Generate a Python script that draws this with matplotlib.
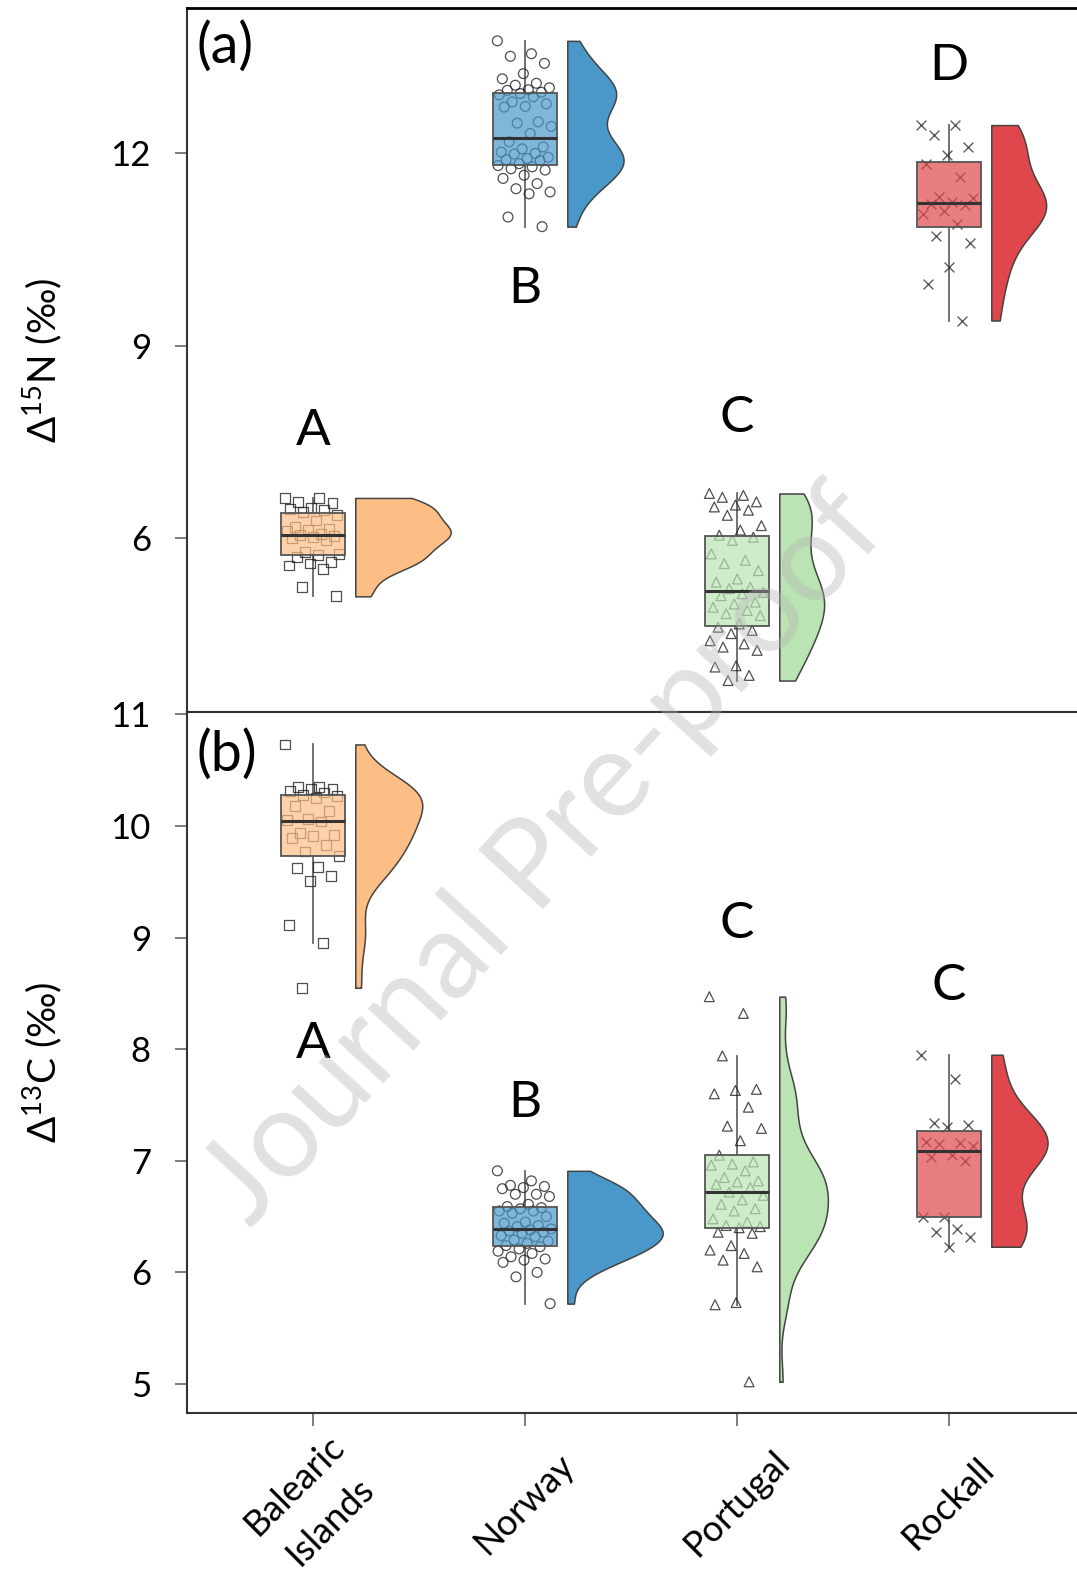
import numpy as np
import matplotlib.pyplot as plt
from matplotlib.colors import to_rgba

plt.rcParams['font.family'] = ['Lato', 'DejaVu Sans']
plt.rcParams['mathtext.fontset'] = 'custom'
plt.rcParams['mathtext.rm'] = 'Lato'
plt.rcParams['mathtext.it'] = 'Lato:italic'
plt.rcParams['mathtext.bf'] = 'Lato:bold'

# sites, colours, point shapes
sites = ['Balearic\nIslands', 'Norway', 'Portugal', 'Rockall']
colours = ['#FDBE85', '#4A98C9', '#BAE4B3', '#E0474C']
markers = ['s', 'o', '^', 'x']

# Delta 15N values
d15n_bal = [6.63, 6.63, 6.57, 6.55, 6.48, 6.46, 6.44, 6.41, 6.37, 6.28, 6.18, 6.15,
            6.13, 6.11, 6.07, 6.05, 6.04, 6.02, 6.00, 5.97, 5.79, 5.76, 5.74, 5.71,
            5.63, 5.61, 5.58, 5.53, 5.24, 5.10]
d15n_nor = [13.74, 13.54, 13.50, 13.39, 13.23, 13.15, 13.08, 13.05, 13.01, 12.98, 12.97,
            12.94, 12.92, 12.90, 12.87, 12.79, 12.76, 12.72, 12.71, 12.48, 12.46, 12.41,
            12.30, 12.17, 12.09, 12.06, 12.01, 11.99, 11.98, 11.93, 11.91, 11.89, 11.88,
            11.83, 11.80, 11.78, 11.75, 11.73, 11.65, 11.60, 11.52, 11.44, 11.39, 11.36,
            11.00, 10.85]
d15n_por = [6.70, 6.67, 6.64, 6.57, 6.52, 6.49, 6.44, 6.36, 6.20, 6.13, 6.05, 6.02,
            5.97, 5.76, 5.66, 5.61, 5.50, 5.37, 5.32, 5.24, 5.22, 5.16, 5.14, 5.11,
            5.01, 4.98, 4.93, 4.88, 4.83, 4.80, 4.67, 4.62, 4.57, 4.52, 4.41, 4.36,
            4.31, 4.26, 4.02, 4.00, 3.87, 3.79]
d15n_roc = [12.43, 12.43, 12.27, 12.09, 11.96, 11.83, 11.63, 11.31, 11.29, 11.23,
            11.21, 11.18, 11.10, 11.05, 10.89, 10.71, 10.59, 10.22, 9.96, 9.39]

# Delta 13C values
d13c_bal = [10.73, 10.35, 10.35, 10.33, 10.33, 10.31, 10.30, 10.28, 10.27, 10.25,
            10.18, 10.13, 10.06, 10.05, 10.04, 9.94, 9.92, 9.91, 9.89, 9.83, 9.77,
            9.73, 9.63, 9.62, 9.55, 9.51, 9.11, 8.95, 8.55]
d13c_nor = [6.91, 6.82, 6.78, 6.77, 6.76, 6.75, 6.70, 6.70, 6.68, 6.61, 6.59, 6.58,
            6.57, 6.55, 6.55, 6.53, 6.50, 6.45, 6.44, 6.42, 6.41, 6.39, 6.38, 6.37,
            6.36, 6.35, 6.33, 6.32, 6.29, 6.28, 6.26, 6.24, 6.23, 6.21, 6.19, 6.17,
            6.14, 6.12, 6.11, 6.09, 6.00, 5.96, 5.72]
d13c_por = [8.47, 8.32, 7.94, 7.64, 7.63, 7.60, 7.48, 7.31, 7.29, 7.18, 7.05, 6.99,
            6.97, 6.96, 6.91, 6.85, 6.82, 6.81, 6.79, 6.76, 6.72, 6.69, 6.65, 6.61,
            6.57, 6.55, 6.48, 6.45, 6.42, 6.41, 6.40, 6.36, 6.35, 6.24, 6.20, 6.17,
            6.11, 6.05, 5.73, 5.71, 5.02]
d13c_roc = [7.95, 7.73, 7.34, 7.32, 7.30, 7.17, 7.16, 7.15, 7.13, 7.05, 7.03, 7.00,
            6.50, 6.50, 6.39, 6.36, 6.32, 6.23]

# significance letters and their heights
letters_n = ['A', 'B', 'C', 'D']
letters_n_y = [7.67, 9.88, 7.88, 13.35]
letters_c = ['A', 'B', 'C', 'C']
letters_c_y = [8.05, 7.52, 9.12, 8.57]


def kde(vals, n=512):
    v = np.asarray(vals, dtype=float)
    q75, q25 = np.percentile(v, [75, 25])
    bw = 0.9 * min(v.std(ddof=1), (q75 - q25) / 1.34) * len(v) ** -0.2
    grid = np.linspace(v.min(), v.max(), n)
    z = (grid[:, None] - v[None, :]) / bw
    dens = np.exp(-0.5 * z ** 2).sum(axis=1) / (len(v) * bw * np.sqrt(2 * np.pi))
    return grid, dens


def raincloud(ax, groups, letters, letter_y):
    curves = [kde(g) for g in groups]
    dmax = max(d.max() for _, d in curves)
    for i, vals in enumerate(groups):
        n = len(vals)
        jit = ((np.arange(n) * 0.618034) % 1 - 0.5) * 0.26
        if markers[i] == 'x':
            ax.scatter(i + jit, vals, marker='x', s=50, c='#333333', linewidths=1.0,
                       alpha=0.8, zorder=2)
        else:
            ax.scatter(i + jit, vals, marker=markers[i], s=50, facecolors='none',
                       edgecolors='#222222', linewidths=0.9, alpha=0.8, zorder=2)
        ax.boxplot([vals], positions=[i], widths=0.3, patch_artist=True,
                   showfliers=False, showcaps=False, manage_ticks=False,
                   boxprops=dict(facecolor=to_rgba(colours[i], 0.7), edgecolor='#555555',
                                 linewidth=1.3, zorder=3),
                   whiskerprops=dict(color='#666666', linewidth=1.3, zorder=1),
                   medianprops=dict(color='#333333', linewidth=2.2, zorder=4))
        grid, dens = curves[i]
        ax.fill_betweenx(grid, i + 0.2, i + 0.2 + 0.45 * dens / dmax,
                         facecolor=colours[i], edgecolor='#444444', linewidth=1.1, zorder=2)
        ax.text(i, letter_y[i], letters[i], ha='center', va='center', fontsize=37)


fig = plt.figure(figsize=(10.77, 15.82), dpi=100)
ax1 = fig.add_axes([0.1736, 0.5499, 0.8366, 0.4450])
ax2 = fig.add_axes([0.1736, 0.1068, 0.8366, 0.4431])

raincloud(ax1, [d15n_bal, d15n_nor, d15n_por, d15n_roc], letters_n, letters_n_y)
raincloud(ax2, [d13c_bal, d13c_nor, d13c_por, d13c_roc], letters_c, letters_c_y)

for ax in (ax1, ax2):
    ax.set_xlim(-0.594, 3.656)
    ax.set_xticks(range(len(sites)))
    ax.tick_params(direction='out', length=9, width=1.2, color='#666666',
                   labelsize=25)
    ax.tick_params(axis='y', pad=17)
    for s in ax.spines.values():
        s.set_color('#333333')
        s.set_linewidth(1.5)
    ax.yaxis.set_label_coords(-0.136, 0.5)

ax1.spines['top'].set_color('black')
ax1.spines['top'].set_linewidth(2)
ax1.set_ylim(3.3, 14.25)
ax1.set_yticks([6, 9, 12])
ax1.set_xticklabels([])
ax1.set_ylabel('Δ$^{15}$N (‰)', fontsize=28)
ax1.text(0.011, 0.982, '(a)', transform=ax1.transAxes, ha='left', va='top', fontsize=40)

ax2.set_ylim(4.74, 11.02)
ax2.set_yticks([5, 6, 7, 8, 9, 10, 11])
ax2.set_xticklabels(sites, rotation=45, ha='center', va='center',
                    fontsize=26, linespacing=1.65)
ax2.tick_params(axis='x', pad=56)
ax2.set_ylabel('Δ$^{13}$C (‰)', fontsize=28)
ax2.text(0.011, 0.976, '(b)', transform=ax2.transAxes, ha='left', va='top', fontsize=40)

# watermark of the source page
fig.text(0.506, 0.458, 'Journal Pre-proof', rotation=47.5, ha='center', va='center',
         fontsize=88, color='#b5b5b5', alpha=0.4, zorder=10)

fig.savefig('out.png', dpi=100)
